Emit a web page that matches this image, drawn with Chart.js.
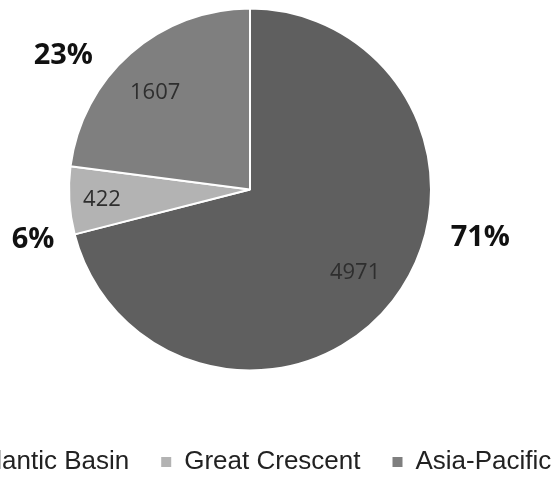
<!DOCTYPE html>
<html>
<head>
<meta charset="utf-8">
<script src="https://cdn.jsdelivr.net/npm/chart.js@4/dist/chart.umd.min.js"></script>
<style>
  html, body { margin: 0; padding: 0; background: #fff; overflow: hidden; }
  #wrap { position: absolute; left: -100px; top: 0; width: 700px; height: 480px; }
</style>
</head>
<body>
<div id="wrap"><canvas id="pieChart"></canvas></div>
<script>
// Dados do gráfico
const regions = ['Atlantic Basin', 'Great Crescent', 'Asia-Pacific'];
const counts = [4971, 422, 1607];
const sliceColors = ['#5f5f5f', '#b3b3b3', '#7f7f7f'];

// posição dos rótulos (fração do raio, deslocamento angular em graus)
const valueLabelRadius = [0.74, 0.82, 0.75];
const valueLabelShift = [0.5, -0.5, -3];
const pctLabelRadius = [1.30, 1.23, 1.27];
const pctLabelShift = [-26, -9.5, -13];

const total = counts.reduce((a, b) => a + b, 0);

// Plugin para escrever os valores e as porcentagens
const sliceLabels = {
    id: 'sliceLabels',
    afterDatasetsDraw(chart) {
        const ctx = chart.ctx;
        const arcs = chart.getDatasetMeta(0).data;
        ctx.save();
        ctx.textAlign = 'center';
        ctx.textBaseline = 'middle';
        arcs.forEach((arc, i) => {
            const { x, y, startAngle, endAngle, outerRadius } = arc.getProps(['x', 'y', 'startAngle', 'endAngle', 'outerRadius'], true);
            const mid = (startAngle + endAngle) / 2;

            // valor dentro da fatia
            const a1 = mid + valueLabelShift[i] * Math.PI / 180;
            const r1 = outerRadius * valueLabelRadius[i];
            ctx.font = '22px "Open Sans"';
            ctx.fillStyle = '#2e2e2e';
            ctx.fillText(String(counts[i]), x + Math.cos(a1) * r1, y + Math.sin(a1) * r1);

            // porcentagem fora da fatia
            const a2 = mid + pctLabelShift[i] * Math.PI / 180;
            const r2 = outerRadius * pctLabelRadius[i];
            ctx.font = 'bold 29px "Open Sans"';
            ctx.fillStyle = '#111111';
            ctx.fillText(Math.round(counts[i] / total * 100) + '%', x + Math.cos(a2) * r2, y + Math.sin(a2) * r2);
        });
        ctx.restore();
    }
};

const ctx = document.getElementById('pieChart').getContext('2d');

const pieChart = new Chart(ctx, {
    type: 'pie',
    data: {
        labels: regions,
        datasets: [{
            data: counts,
            backgroundColor: sliceColors,
            borderColor: '#ffffff',
            borderWidth: 2,
            radius: 181
        }]
    },
    options: {
        responsive: true,
        maintainAspectRatio: false,
        animation: false,
        layout: { padding: 0 },
        plugins: {
            tooltip: { enabled: false },
            // título vazio usado só como espaço entre a pizza e a legenda
            title: {
                display: true,
                text: '',
                position: 'bottom',
                weight: 500,
                font: { size: 10, lineHeight: 1 },
                padding: { top: 28, bottom: 0 }
            },
            legend: {
                position: 'bottom',
                maxHeight: 63,
                labels: {
                    boxWidth: 10,
                    boxHeight: 10,
                    padding: 32,
                    color: '#222222',
                    font: { family: '"Liberation Sans", Arial, sans-serif', size: 26 },
                    generateLabels: (chart) =>
                        Chart.overrides.pie.plugins.legend.labels.generateLabels(chart)
                            .map(item => ({ ...item, lineWidth: 0 }))
                }
            }
        }
    },
    plugins: [sliceLabels]
});
</script>
</body>
</html>
